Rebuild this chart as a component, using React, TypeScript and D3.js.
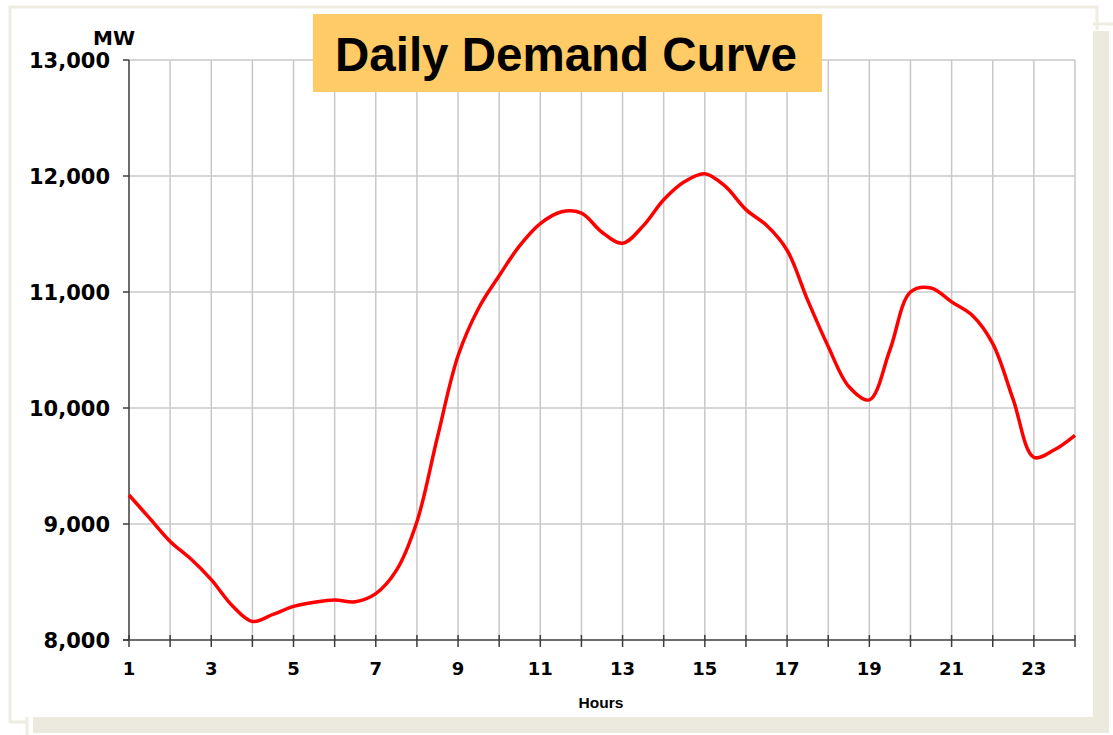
import { useMemo } from "react";
import * as d3 from "d3";

// half-hourly load, hour 1 .. 24
const hours = [
  1, 1.5, 2, 2.5, 3, 3.5, 4, 4.5, 5, 5.5, 6, 6.5, 7, 7.5, 8, 8.5, 9, 9.5, 10,
  10.5, 11, 11.5, 12, 12.5, 13, 13.5, 14, 14.5, 15, 15.5, 16, 16.5, 17, 17.5,
  18, 18.5, 19, 19.5, 20, 20.5, 21, 21.5, 22, 22.5, 23, 23.5, 24,
];
const demandMW = [
  9250, 9050, 8850, 8700, 8520, 8300, 8160, 8220, 8290, 8325, 8345, 8330, 8400,
  8600, 9020, 9750, 10450, 10860, 11140, 11400, 11590, 11690, 11680, 11515,
  11420, 11570, 11795, 11950, 12020, 11910, 11710, 11575, 11360, 10930, 10530,
  10185, 10070, 10500, 11000, 11035, 10915, 10800, 10555, 10070, 9575, 9640,
  9765,
];
const hourTicks = d3.range(1, 25);
const hourLabels = [1, 3, 5, 7, 9, 11, 13, 15, 17, 19, 21, 23];
const mwTicks = [8000, 9000, 10000, 11000, 12000, 13000];

const title = "Daily Demand Curve";
const W = 1113;
const H = 735;
const beige = "#ece9de";
const tickFont = "'DejaVu Sans', Verdana, sans-serif";
const arial = "'Liberation Sans', Arial, sans-serif";

export default function App() {
  const x = useMemo(() => d3.scaleLinear().domain([1, 24]).range([129, 1075]), []);
  const y = useMemo(() => d3.scaleLinear().domain([8000, 13000]).range([640, 60]), []);

  const line = d3
    .line<number>()
    .x((_, i) => x(hours[i]))
    .y((d) => y(d))
    .curve(d3.curveCatmullRom.alpha(0.5));

  const fmt = d3.format(",");

  return (
    <svg
      width={W}
      height={H}
      style={{ position: "absolute", left: 0, top: 0, background: "#fff" }}
    >
      {/* frame + shadow */}
      <g fill={beige}>
        <rect x={1093} y={31} width={16} height={702} />
        <rect x={33} y={717} width={1076} height={16} />
      </g>
      <g stroke="#efece2" strokeWidth={3} fill="none">
        <path d="M10,723 V7 H1097 V30" />
        <path d="M10,722 H28 M27,717 V735" />
        <path d="M1093,24 H1113" />
      </g>

      {/* grid */}
      <g stroke="#c8c8c8" strokeWidth={1.5}>
        {hourTicks.slice(1).map((h) => (
          <line key={"v" + h} x1={x(h)} x2={x(h)} y1={y(13000)} y2={y(8000)} />
        ))}
        {mwTicks.slice(1).map((v) => (
          <line key={"h" + v} x1={x(1)} x2={x(24)} y1={y(v)} y2={y(v)} />
        ))}
      </g>

      {/* axes */}
      <g stroke="#3c3c3c" strokeWidth={1.5}>
        <line x1={x(1)} x2={x(1)} y1={y(13000)} y2={y(8000)} />
        <line x1={x(1) - 6} x2={x(24)} y1={y(8000)} y2={y(8000)} />
        {mwTicks.map((v) => (
          <line key={"yt" + v} x1={x(1) - 6} x2={x(1)} y1={y(v)} y2={y(v)} />
        ))}
        {hourTicks.map((h) => (
          <line key={"xt" + h} x1={x(h)} x2={x(h)} y1={y(8000) - 5} y2={y(8000) + 7} />
        ))}
      </g>

      {/* tick labels */}
      <g fontFamily={tickFont} fontWeight="bold" fill="#000">
        {mwTicks.map((v) => (
          <text key={"yl" + v} x={110} y={y(v)} dy="0.36em" textAnchor="end" fontSize={21}>
            {fmt(v)}
          </text>
        ))}
        {hourLabels.map((h) => (
          <text key={"xl" + h} x={x(h)} y={675} textAnchor="middle" fontSize={18}>
            {h}
          </text>
        ))}
        <text x={93} y={45} fontSize={20}>
          MW
        </text>
      </g>
      <text x={601} y={708} textAnchor="middle" fontFamily={arial} fontWeight="bold" fontSize={15.5}>
        Hours
      </text>

      {/* demand curve */}
      <path d={line(demandMW) ?? ""} fill="none" stroke="#ff0000" strokeWidth={3.5} strokeLinejoin="round" />

      {/* title box */}
      <rect x={313} y={14} width={509} height={78} fill="#fecb66" />
      <text x={335} y={71} fontFamily={arial} fontWeight="bold" fontSize={47.5} fill="#000">
        {title}
      </text>
    </svg>
  );
}
